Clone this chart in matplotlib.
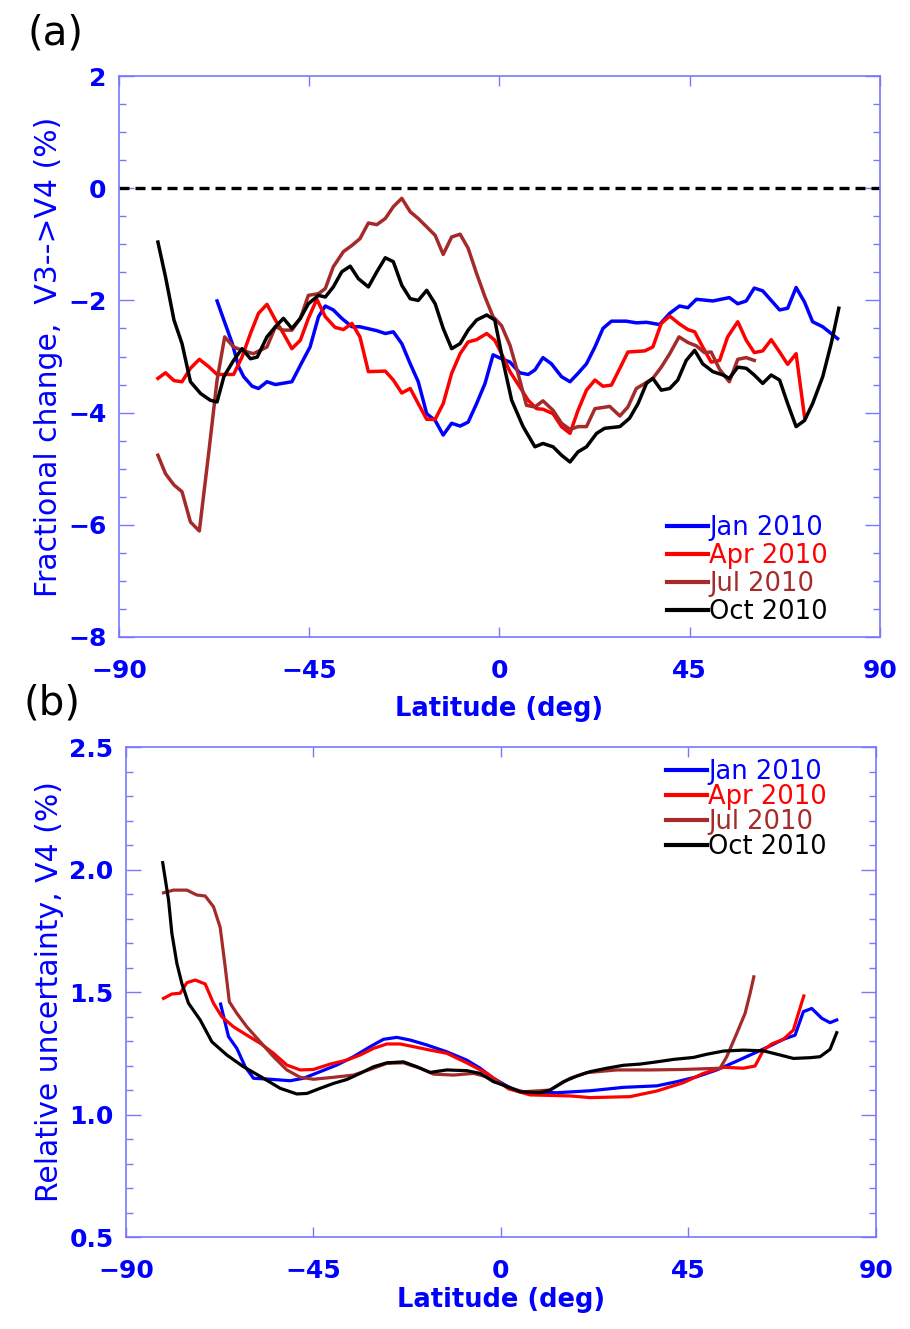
import matplotlib
matplotlib.use("Agg")
import matplotlib.pyplot as plt
from matplotlib.ticker import MultipleLocator

# ---- panel (a): fractional change V3 -> V4 (%) ----
jan_frac_lat = [-66.8, -65.2, -63.2, -61.7, -60.5, -58.5, -57.0, -55.0, -53.0, -49.1, -46.7, -44.8, -42.8, -41.2,
                -39.3, -37.3, -34.9, -33.0, -29.0, -27.0, -25.1, -23.1, -21.1, -19.2, -17.2, -15.2, -13.3, -11.3,
                -9.3, -7.4, -5.4, -3.4, -1.5, 0.5, 2.5, 4.8, 6.8, 8.4, 10.3, 12.3, 14.7, 16.7, 18.6, 20.6, 22.6,
                24.5, 26.5, 30.0, 32.4, 34.8, 37.9, 40.3, 42.6, 44.6, 46.6, 50.5, 54.4, 56.4, 58.4, 60.3, 62.3,
                64.3, 66.3, 68.2, 70.2, 72.2, 74.1, 76.5, 80.0]
jan_frac = [-2.01, -2.35, -2.77, -3.18, -3.36, -3.53, -3.57, -3.45, -3.50, -3.45, -3.10, -2.83, -2.29, -2.10,
            -2.17, -2.32, -2.47, -2.47, -2.54, -2.59, -2.56, -2.77, -3.13, -3.45, -4.02, -4.14, -4.40, -4.19,
            -4.24, -4.17, -3.84, -3.48, -2.97, -3.04, -3.10, -3.29, -3.32, -3.24, -3.02, -3.13, -3.36, -3.45,
            -3.30, -3.13, -2.83, -2.50, -2.37, -2.37, -2.40, -2.39, -2.43, -2.23, -2.10, -2.13, -1.98, -2.01,
            -1.95, -2.06, -2.01, -1.78, -1.83, -2.00, -2.17, -2.14, -1.77, -2.03, -2.38, -2.47, -2.68]

apr_frac_lat = [-80.8, -79.0, -77.0, -75.1, -73.1, -71.0, -68.8, -66.8, -62.9, -60.9, -58.9, -57.0, -55.0, -53.0,
                -51.1, -49.1, -47.1, -45.2, -43.2, -41.2, -38.9, -36.9, -34.9, -33.0, -31.0, -27.0, -25.1, -23.1,
                -21.1, -19.2, -17.2, -15.2, -13.3, -11.3, -9.3, -7.4, -5.4, -3.0, -1.1, 0.5, 2.5, 4.8, 6.8, 8.8,
                10.3, 12.7, 14.7, 16.7, 18.6, 20.6, 22.6, 24.5, 26.5, 28.5, 30.4, 34.4, 36.3, 38.3, 40.3, 42.6,
                44.6, 46.2, 48.1, 50.1, 52.1, 54.0, 56.4, 58.4, 60.3, 62.3, 64.3, 66.3, 68.2, 70.2, 72.2]
apr_frac = [-3.39, -3.29, -3.43, -3.45, -3.21, -3.05, -3.18, -3.32, -3.32, -3.01, -2.59, -2.23, -2.07, -2.35,
            -2.59, -2.86, -2.71, -2.32, -1.98, -2.29, -2.48, -2.52, -2.41, -2.65, -3.27, -3.26, -3.42, -3.65,
            -3.57, -3.84, -4.12, -4.12, -3.84, -3.30, -2.95, -2.74, -2.70, -2.59, -2.71, -2.95, -3.27, -3.54,
            -3.78, -3.93, -3.94, -4.02, -4.25, -4.37, -3.96, -3.60, -3.42, -3.53, -3.51, -3.21, -2.92, -2.90,
            -2.83, -2.41, -2.28, -2.42, -2.52, -2.56, -2.83, -3.10, -3.07, -2.65, -2.38, -2.71, -2.93, -2.90,
            -2.70, -2.92, -3.14, -2.95, -4.08]

jul_frac_lat = [-80.8, -79.0, -77.0, -75.1, -73.1, -71.0, -68.8, -66.8, -65.0, -62.9, -60.9, -58.2, -55.0, -53.0,
                -51.1, -49.1, -47.1, -45.2, -42.8, -41.2, -39.3, -36.9, -34.9, -33.0, -31.0, -29.0, -27.0, -25.1,
                -23.1, -21.1, -19.2, -17.2, -15.2, -13.3, -11.3, -9.3, -7.4, -5.4, -3.4, -1.5, 0.5, 2.5, 4.4, 6.4,
                8.4, 10.3, 12.7, 14.7, 16.7, 18.6, 20.6, 22.6, 26.1, 28.5, 30.4, 32.4, 34.4, 36.3, 38.3, 40.3,
                42.5, 44.6, 46.6, 48.5, 50.1, 52.1, 54.4, 56.4, 58.4, 60.3]
jul_frac = [-4.76, -5.09, -5.29, -5.41, -5.95, -6.11, -4.73, -3.42, -2.65, -2.83, -2.89, -2.95, -2.83, -2.47,
            -2.53, -2.53, -2.32, -1.91, -1.88, -1.79, -1.40, -1.13, -1.02, -0.90, -0.62, -0.65, -0.54, -0.33,
            -0.18, -0.42, -0.54, -0.69, -0.84, -1.18, -0.87, -0.82, -1.07, -1.52, -1.94, -2.29, -2.45, -2.80,
            -3.30, -3.87, -3.90, -3.79, -3.96, -4.19, -4.30, -4.25, -4.25, -3.93, -3.89, -4.06, -3.90, -3.57,
            -3.48, -3.39, -3.19, -2.95, -2.65, -2.75, -2.81, -2.93, -2.92, -3.23, -3.45, -3.05, -3.02, -3.07]

oct_frac_lat = [-80.8, -79.0, -77.0, -75.1, -73.9, -73.1, -70.7, -68.4, -66.8, -65.2, -62.9, -60.9, -58.9, -57.3,
                -55.0, -53.0, -51.1, -49.1, -47.1, -45.2, -42.8, -41.2, -39.3, -37.3, -35.3, -33.4, -31.0, -29.0,
                -27.0, -25.1, -23.1, -21.1, -19.2, -17.2, -15.2, -13.3, -11.3, -9.3, -7.4, -5.4, -3.0, -1.1, 0.9,
                2.9, 5.6, 8.4, 10.3, 12.7, 14.7, 16.7, 18.6, 20.6, 23.0, 24.9, 28.5, 30.8, 32.8, 34.8, 36.3, 38.3,
                40.3, 42.2, 44.2, 46.2, 48.1, 50.5, 52.9, 54.4, 56.4, 58.4, 60.3, 62.3, 64.3, 66.3, 68.2, 70.2,
                72.2, 74.1, 76.5, 78.5, 80.3]
oct_frac = [-0.96, -1.58, -2.35, -2.77, -3.18, -3.45, -3.66, -3.78, -3.81, -3.36, -3.07, -2.86, -3.04, -3.01,
            -2.65, -2.47, -2.32, -2.50, -2.32, -2.06, -1.91, -1.94, -1.76, -1.49, -1.39, -1.61, -1.76, -1.49,
            -1.24, -1.31, -1.73, -1.97, -2.00, -1.82, -2.06, -2.50, -2.86, -2.77, -2.53, -2.35, -2.26, -2.35,
            -3.10, -3.78, -4.25, -4.61, -4.55, -4.61, -4.76, -4.88, -4.70, -4.61, -4.37, -4.28, -4.25, -4.10,
            -3.84, -3.48, -3.39, -3.60, -3.57, -3.42, -3.07, -2.89, -3.13, -3.27, -3.33, -3.39, -3.19, -3.21,
            -3.33, -3.48, -3.33, -3.42, -3.84, -4.25, -4.14, -3.84, -3.36, -2.77, -2.14]

# ---- panel (b): relative uncertainty V4 (%) ----
jan_unc_lat = [-67.3, -65.4, -63.4, -61.4, -59.4, -55.4, -50.6, -47.4, -43.4, -39.4, -35.4, -31.4, -28.2, -25.0,
               -21.8, -17.8, -13.0, -8.2, -5.0, -1.8, 1.8, 4.6, 13.4, 21.4, 29.4, 37.4, 42.2, 47.0, 51.8, 56.6,
               61.4, 64.6, 67.8, 70.6, 72.6, 74.6, 77.0, 79.0, 80.6]
jan_unc = [1.451, 1.318, 1.270, 1.195, 1.148, 1.144, 1.138, 1.148, 1.175, 1.202, 1.236, 1.277, 1.307, 1.315,
           1.304, 1.284, 1.256, 1.222, 1.189, 1.148, 1.113, 1.093, 1.089, 1.097, 1.111, 1.117, 1.134, 1.154,
           1.182, 1.218, 1.255, 1.280, 1.307, 1.324, 1.420, 1.433, 1.393, 1.375, 1.386]

apr_unc_lat = [-81.0, -79.0, -77.0, -75.4, -73.4, -71.0, -69.0, -67.0, -64.2, -61.0, -57.8, -54.6, -51.4, -48.2,
               -45.0, -41.0, -37.0, -33.8, -30.6, -27.4, -24.2, -21.0, -17.0, -13.0, -8.2, -3.4, 1.8, 7.0, 16.6,
               21.4, 31.0, 37.4, 43.8, 48.6, 53.4, 58.2, 61.0, 63.0, 65.0, 67.8, 70.2, 71.4, 72.7]
apr_unc = [1.474, 1.492, 1.495, 1.538, 1.549, 1.533, 1.454, 1.399, 1.358, 1.324, 1.291, 1.250, 1.202, 1.182,
           1.184, 1.206, 1.222, 1.243, 1.270, 1.288, 1.288, 1.277, 1.263, 1.250, 1.211, 1.168, 1.105, 1.080,
           1.076, 1.069, 1.073, 1.096, 1.130, 1.168, 1.193, 1.189, 1.198, 1.263, 1.288, 1.307, 1.345, 1.413,
           1.484]

jul_unc_lat = [-81.0, -78.6, -75.4, -73.0, -71.0, -69.0, -67.4, -66.2, -65.2, -63.4, -61.0, -57.8, -54.6, -51.4,
               -48.2, -45.0, -40.2, -35.4, -30.6, -27.4, -23.4, -19.4, -16.2, -11.4, -6.6, -3.4, 1.8, 5.4, 11.8,
               16.6, 20.6, 27.8, 35.8, 43.8, 52.6, 54.2, 56.6, 58.6, 59.8, 60.7]
jul_unc = [1.905, 1.916, 1.916, 1.896, 1.892, 1.848, 1.764, 1.603, 1.460, 1.413, 1.358, 1.297, 1.236, 1.182,
           1.152, 1.144, 1.152, 1.161, 1.189, 1.209, 1.211, 1.189, 1.165, 1.161, 1.168, 1.154, 1.110, 1.093,
           1.100, 1.148, 1.171, 1.182, 1.182, 1.184, 1.189, 1.236, 1.331, 1.413, 1.494, 1.562]

oct_unc_lat = [-81.2, -79.8, -79.0, -77.8, -76.6, -75.0, -72.2, -69.4, -65.8, -61.8, -57.0, -53.0, -49.0, -46.6,
               -43.4, -40.2, -37.0, -33.8, -30.6, -27.4, -23.4, -20.2, -17.0, -13.0, -8.2, -5.0, -1.8, 0.6, 4.6,
               9.4, 11.8, 15.0, 18.2, 21.4, 25.4, 29.4, 33.4, 37.4, 41.4, 46.2, 49.4, 53.4, 58.2, 63.0, 67.0,
               70.2, 74.2, 76.6, 79.0, 80.6]
oct_unc = [2.028, 1.876, 1.740, 1.617, 1.535, 1.454, 1.386, 1.297, 1.243, 1.195, 1.148, 1.107, 1.084, 1.086,
           1.107, 1.127, 1.143, 1.168, 1.195, 1.211, 1.215, 1.195, 1.172, 1.182, 1.179, 1.168, 1.134, 1.120,
           1.093, 1.089, 1.100, 1.134, 1.157, 1.175, 1.189, 1.201, 1.206, 1.215, 1.225, 1.233, 1.246, 1.259,
           1.263, 1.260, 1.243, 1.229, 1.232, 1.236, 1.266, 1.334]

labels = ["Jan 2010", "Apr 2010", "Jul 2010", "Oct 2010"]
colors = ["#0000ff", "#ff0000", "#a52a2a", "#000000"]

FRAME = "#7878ff"
TICKC = "#0000ff"


def style_axes(ax, ylabel, ymaj, ymin, ylim, xpad):
    ax.set_xlim(-90, 90)
    ax.set_ylim(*ylim)
    ax.set_xticks([-90, -45, 0, 45, 90])
    ax.set_xticklabels(["\u221290", "\u221245", "0", "45", "90"])
    ax.yaxis.set_major_locator(MultipleLocator(ymaj))
    ax.yaxis.set_minor_locator(MultipleLocator(ymin))
    for s in ax.spines.values():
        s.set_color(FRAME)
        s.set_linewidth(1.2)
    ax.tick_params(which="both", direction="in", colors=FRAME, labelcolor=TICKC,
                   top=True, right=True, width=1.0)
    ax.tick_params(axis="y", which="major", length=11, pad=9, labelsize=18)
    ax.tick_params(axis="y", which="minor", length=5)
    ax.tick_params(axis="x", which="major", length=7, pad=16, labelsize=18)
    for t in ax.get_xticklabels() + ax.get_yticklabels():
        t.set_fontweight("bold")
    ax.set_xlabel("Latitude (deg)", color=TICKC, fontsize=18.5, fontweight="bold", labelpad=xpad)
    ax.set_ylabel(ylabel, color=TICKC, fontsize=21.5, labelpad=4)


def add_legend(ax, y_top, spacing):
    leg = ax.legend(loc="upper left", bbox_to_anchor=(0.72, y_top), frameon=False, fontsize=18.5,
                    handlelength=1.6, handletextpad=0.05, labelspacing=spacing, borderpad=0,
                    borderaxespad=0, labelcolor="linecolor")
    for h in leg.get_lines():
        h.set_linewidth(3.0)


fig = plt.figure(figsize=(9.10, 13.29), dpi=100)
ax1 = fig.add_axes([0.1308, 0.5207, 0.836, 0.4221])
ax2 = fig.add_axes([0.1385, 0.0692, 0.824, 0.3687])

ax1.axhline(0, color="black", lw=2.4, dashes=(3, 1.8))
for lat, val, lab, c in zip([jan_frac_lat, apr_frac_lat, jul_frac_lat, oct_frac_lat],
                            [jan_frac, apr_frac, jul_frac, oct_frac], labels, colors):
    ax1.plot(lat, val, color=c, lw=2.5, label=lab)
style_axes(ax1, "Fractional change,  V3-->V4 (%)", 2, 0.5, (-8, 2), 9)
add_legend(ax1, 0.2175, 0.075)

for lat, val, lab, c in zip([jan_unc_lat, apr_unc_lat, jul_unc_lat, oct_unc_lat],
                            [jan_unc, apr_unc, jul_unc, oct_unc], labels, colors):
    ax2.plot(lat, val, color=c, lw=2.3, label=lab)
style_axes(ax2, "Relative uncertainty, V4 (%)", 0.5, 0.1, (0.5, 2.5), 3)
add_legend(ax2, 0.975, -0.045)

fig.text(0.030, 0.990, "(a)", fontsize=29, va="top", ha="left")
fig.text(0.026, 0.486, "(b)", fontsize=29, va="top", ha="left")

fig.savefig("out.png", dpi=100)
